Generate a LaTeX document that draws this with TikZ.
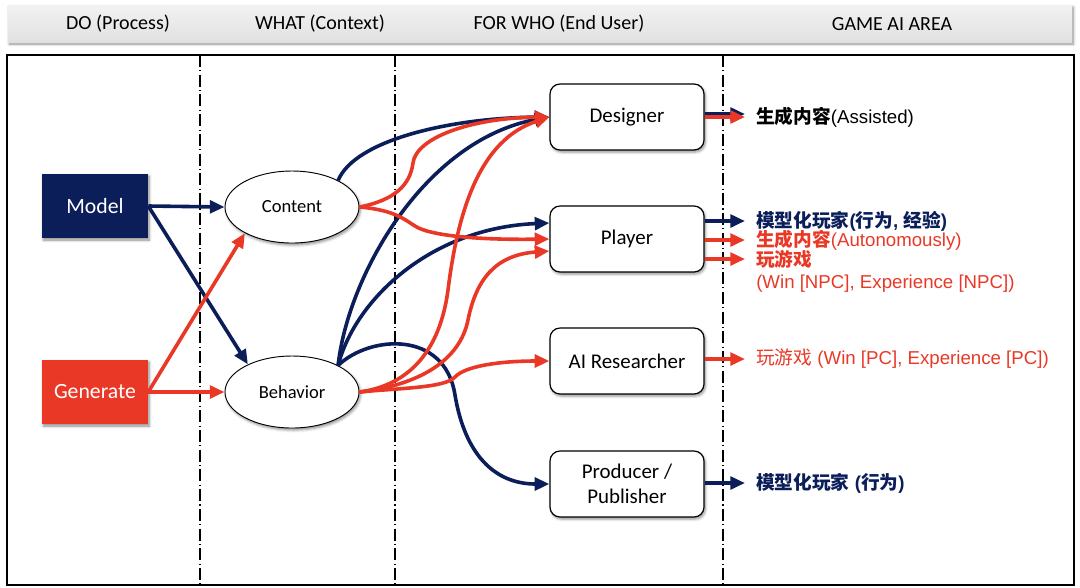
\documentclass[tikz,border=0pt]{standalone}
\usepackage{fontspec}
\setmainfont{Carlito}
\newfontfamily\cjk{Noto Sans CJK SC}
\newfontfamily\hel{Liberation Sans}
\usepackage{tikz}
\usetikzlibrary{
	arrows.meta, shapes.geometric, positioning, calc, shadows.blur
}
\definecolor{ainavy}  {RGB}{11,  30,  90}
\definecolor{aired}   {RGB}{233, 56,  38}
\newcommand{\zh}[1]{{\cjk #1}}

\begin{document}
\begin{tikzpicture}[x=0.75pt,y=0.75pt,
		every node/.style={inner sep=0pt},
		shade/.style={blur shadow={shadow xshift=1pt,shadow yshift=-1.5pt,shadow blur radius=2pt,shadow opacity=45}},
		hdr/.style={font=\fontsize{15}{18}\selectfont},
		proc/.style={shade,minimum width=79.5pt,minimum height=48pt,text=white,font=\fontsize{16.3}{19}\selectfont},
		ctx/.style={shade,ellipse,draw,fill=white,line width=0.7pt,minimum width=100.5pt,minimum height=54pt,font=\fontsize{13.9}{16}\selectfont},
		user/.style={shade,draw,fill=white,rounded corners=7.5pt,line width=0.9pt,minimum width=115.5pt,minimum height=49.5pt,align=center,font=\fontsize{15.7}{18}\selectfont},
		area/.style={anchor=west,inner xsep=8.25pt,font=\hel\fontsize{14}{17}\selectfont},
		nv/.style={draw=ainavy,line width=2.7pt,-{Triangle[length=11pt,width=9.5pt]}},
		rd/.style={draw=aired,line width=2.7pt,-{Triangle[length=11pt,width=9.5pt]}},
		sep/.style={line width=0.8pt,dash pattern=on 9pt off 2.5pt on 0.8pt off 2.5pt}
	]
	\useasboundingbox (0,0) rectangle (1080,-587);
	% header bar
	\path[shade,top color=gray!10,bottom color=gray!24] (8,-5) rectangle (1072,-42);
	\node[hdr] (hdo)   at (118,-24) {DO (Process)};
	\node[hdr] (hwhat) at (320,-24) {WHAT (Context)};
	\node[hdr] (hwho)  at (559,-24) {FOR WHO (End User)};
	\node[hdr] (harea) at (892,-24) {GAME AI AREA};
	% frame and columns
	\draw[line width=1.3pt] (7,-55) rectangle (1074,-585);
	\foreach \x in {200,395,723}{\draw[sep] (\x,-55) -- (\x,-585);}
	% nodes
	\node[proc,fill=ainavy] (model)    at (95,-206) {Model};
	\node[proc,fill=aired]  (generate) at (95,-392) {Generate};
	\node[ctx] (content)  at (292,-207) {Content};
	\node[ctx] (behavior) at (292,-392) {Behavior};
	\node[user] (designer)   at (627,-117) {Designer};
	\node[user] (player)     at (627,-239) {Player};
	\node[user] (airesearch) at (627,-361) {AI Researcher};
	\node[user] (producer)   at (627,-484) {Producer /\\[1pt]Publisher};
	% game ai areas
	\node[area] (assisted) at (745,-117) {\textbf{\zh{生成内容}}(Assisted)};
	\node[area,text=ainavy] (plmodel) at (745,-221) {\bfseries\zh{模型化玩家}(\zh{行为}, \zh{经验})};
	\node[area,text=aired]  (plgen)   at (745,-240) {\textbf{\zh{生成内容}}(Autonomously)};
	\node[area,text=aired]  (plplay)  at (745,-259) {\bfseries\zh{玩游戏}};
	\node[area,text=aired]  (plwin)   at (745,-284) {(Win [NPC], Experience [NPC])};
	\node[area,text=aired]  (aiplay)  at (745,-359) {\zh{玩游戏} (Win [PC], Experience [PC])};
	\node[area,text=ainavy] (prmodel) at (745,-483) {\bfseries\zh{模型化玩家} (\zh{行为})};
	% process -> context
	\draw[nv] (model.east) -- (content.west);
	\draw[nv] (model.east) -- (behavior.148);
	\draw[rd] (generate.east) -- (content.209);
	\draw[rd] (generate.east) -- (behavior.west);
	% context -> end user
	\draw[nv] (content.30) .. controls (355,-140) and (450,-118) .. (designer.west);
	\draw[nv] (behavior.30) .. controls (348,-275) and (425,-140) .. (designer.west);
	\draw[nv] (behavior.30) .. controls (355,-300) and (430,-228) .. ([yshift=12pt]player.west);
	\draw[nv] (behavior.30) .. controls (370,-335) and (445,-330) .. (455,-395) .. controls (465,-455) and (495,-484) .. (producer.west);
	\draw[rd] (content.east) .. controls (395,-200) and (410,-185) .. (413,-163) .. controls (416,-138) and (470,-118) .. (designer.west);
	\draw[rd] (content.east) .. controls (395,-210) and (405,-220) .. (415,-226) .. controls (430,-236) and (480,-240) .. (player.west);
	\draw[rd] (behavior.east) .. controls (410,-385) and (440,-350) .. (448,-290) .. controls (458,-210) and (480,-140) .. (designer.west);
	\draw[rd] (behavior.east) .. controls (420,-385) and (460,-360) .. (468,-320) .. controls (476,-280) and (495,-255) .. ([yshift=-9pt]player.west);
	\draw[rd] (behavior.east) .. controls (400,-388) and (445,-388) .. (455,-377) .. controls (465,-366) and (500,-361) .. (airesearch.west);
	% end user -> area
	\draw[nv] ($(designer.east)+(0,3)$) -- ($(assisted.west)+(0,3)$);
	\draw[rd] (designer.east) -- (assisted.west);
	\draw[nv] (plmodel.west -| player.east) -- (plmodel.west);
	\draw[rd] (plgen.west -| player.east) -- (plgen.west);
	\draw[rd] (plplay.west -| player.east) -- (plplay.west);
	\draw[rd] (aiplay.west -| airesearch.east) -- (aiplay.west);
	\draw[nv] (prmodel.west -| producer.east) -- (prmodel.west);
\end{tikzpicture}
\end{document}
